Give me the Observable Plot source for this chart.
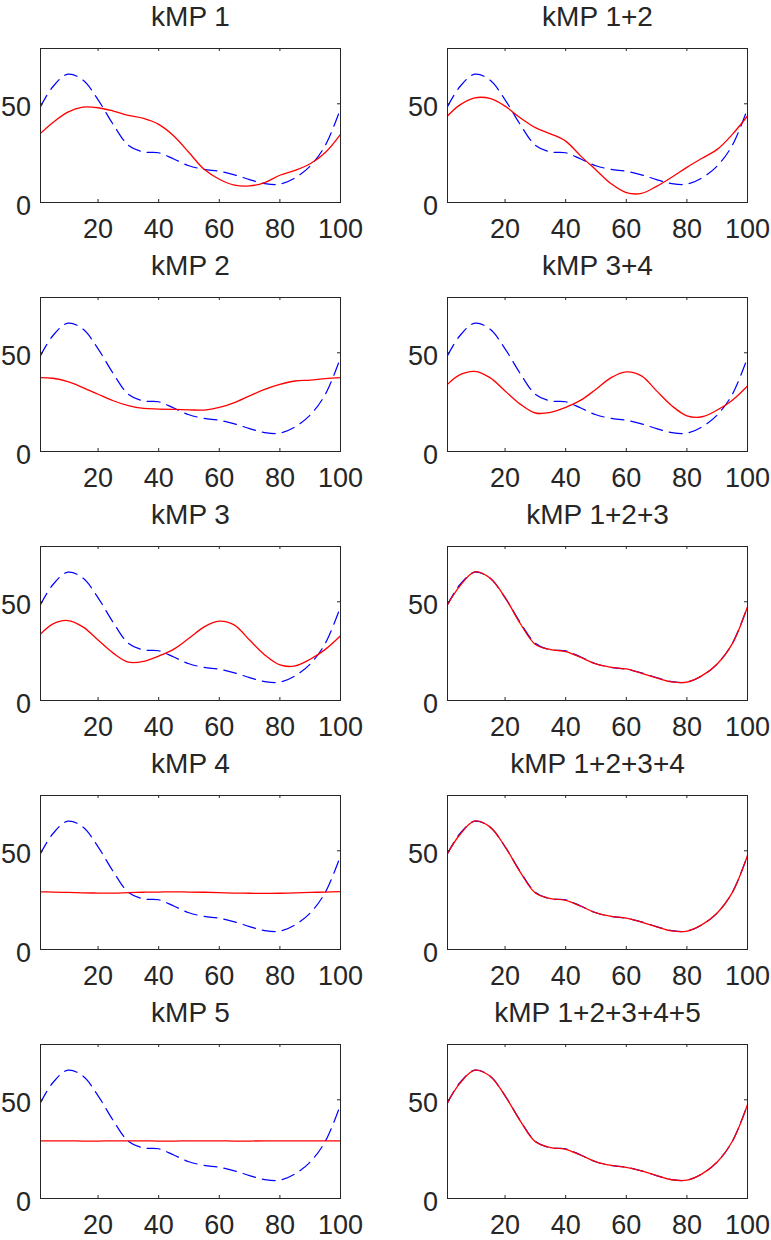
<!DOCTYPE html>
<html><head><meta charset="utf-8">
<script src="https://cdn.jsdelivr.net/npm/d3@7"></script>
<script src="https://cdn.jsdelivr.net/npm/@observablehq/plot@0.6"></script>
<style>
html,body{margin:0;padding:0;background:#fff;}
#chart{position:relative;width:771px;height:1240px;background:#fff;}
#chart svg{position:absolute;overflow:visible;}
</style></head><body><div id="chart"></div>
<script>
// sample positions along the x axis
const xs = [1,5,10,15,20,25,30,35,40,45,50,55,60,65,70,75,80,85,90,95,100];
// blue dashed reference curve (same in every panel)
const target = [48.5,58.5,65,62,52,39.5,29,25.6,25.2,22,18.6,16.8,15.8,14,11.6,9.6,9.3,12.5,18.5,29,47.5];
// red curves
const kmp1 = [35,40.4,45.8,48.3,48,46.3,44.1,42.6,39.6,33.7,25.3,16.8,11.8,8.8,8.4,10.1,13.8,16.3,19.6,25.3,34.5];
const kmp12 = [43.8,49.3,53,52.7,48.8,42.9,37.9,34.8,31.1,23.5,16.5,9.5,5,4.6,8.2,12.8,17.8,22.4,26.9,34.5,43.8];
const kmp2 = [37.4,37.1,35.4,32.4,29,25.7,23.2,21.8,21.5,21.3,21.1,21,22.3,24.8,28.2,31.5,34,35.7,36.2,36.9,37.4];
const kmp34 = [34,38.8,40.6,37.4,30.7,24,19.5,19.8,22.3,26,31.5,37.4,40.3,38.3,30.7,23.2,18.1,17.6,21,26,33.2];
const kmp3 = [33.6,38.7,40.5,37.3,30.6,24,19.4,19.8,22.5,26,31.5,37.3,40.2,38.2,30.6,23.1,18,17.5,20.9,25.9,32.8];
const kmp123 = [48.5,57.8,65.2,62,52.2,39,28.4,25.8,24.8,21.8,18.5,16.8,16,13.8,11.4,9.4,9.3,12.6,18.5,28.8,47.5];
const kmp4 = [29.2,29.1,28.9,28.7,28.6,28.6,28.8,29,29.1,29.2,29.1,29,28.8,28.6,28.5,28.4,28.5,28.7,28.9,29.1,29.3];
const kmp1234 = [48.6,58,65.1,62.1,52.1,39.2,28.6,25.8,24.9,21.9,18.5,16.8,15.9,13.9,11.5,9.4,9.3,12.6,18.5,28.9,47.6];
const kmp5 = [29.2,29.2,29.2,29.1,29.1,29.2,29.2,29.2,29.1,29.1,29.2,29.2,29.2,29.1,29.1,29.2,29.2,29.2,29.2,29.2,29.2];
const kmp12345 = [48.5,58.2,65,62,52,39.3,28.7,25.8,24.9,21.9,18.6,16.8,15.8,14,11.6,9.5,9.3,12.5,18.5,29,47.5];

const titles = ["kMP 1","kMP 1+2","kMP 2","kMP 3+4","kMP 3","kMP 1+2+3","kMP 4","kMP 1+2+3+4","kMP 5","kMP 1+2+3+4+5"];
const series = [kmp1,kmp12,kmp2,kmp34,kmp3,kmp123,kmp4,kmp1234,kmp5,kmp12345];
const xTicks = [20,40,60,80,100];
const yTicks = [0,50];

const ink = "#262626";
const font = "'Liberation Sans', Arial, Helvetica, sans-serif";
const chart = document.getElementById("chart");

series.forEach((vals, i) => {
  const col = i % 2, row = Math.floor(i / 2);
  const W = col ? 386 : 385;
  const mL = col ? 62 : 40, mR = col ? 24 : 45;
  const H = 249, mT = 48, mB = 47;
  const fw = W - mL - mR, fh = H - mT - mB;
  const tgt = xs.map((x, j) => ({x, y: target[j]}));
  const fit = xs.map((x, j) => ({x, y: vals[j]}));
  const svg = Plot.plot({
    width: W, height: H,
    marginLeft: mL, marginRight: mR, marginTop: mT, marginBottom: mB,
    x: {domain: [1, 100], axis: null},
    y: {domain: [0, 78], axis: null},
    style: {fontFamily: font, background: "transparent", color: ink},
    marks: [
      Plot.line(tgt, {x: "x", y: "y", stroke: "#0000ff", strokeWidth: 1.2, strokeDasharray: "13,7", curve: "catmull-rom"}),
      Plot.line(fit, {x: "x", y: "y", stroke: "#ff0000", strokeWidth: 1.3, curve: "catmull-rom"}),
      Plot.ruleX(xTicks, {x: d => d, insetTop: fh - 3, stroke: ink}),
      Plot.ruleX(xTicks, {x: d => d, insetBottom: fh - 3, stroke: ink}),
      Plot.ruleY(yTicks, {y: d => d, insetRight: fw - 3, stroke: ink}),
      Plot.ruleY(yTicks, {y: d => d, insetLeft: fw - 3, stroke: ink}),
      Plot.frame({stroke: ink}),
      Plot.text(xTicks, {x: d => d, text: d => String(d), frameAnchor: "bottom", lineAnchor: "bottom", dy: 35, fontSize: 27, fill: ink}),
      Plot.text(yTicks, {y: d => d, text: d => String(d), frameAnchor: "left", textAnchor: "end", lineAnchor: "bottom", dx: -9.5, dy: 12, fontSize: 27, fill: ink}),
      Plot.text([titles[i]], {text: d => d, frameAnchor: "top", lineAnchor: "bottom", dy: -23, fontSize: 28, fill: ink})
    ]
  });
  svg.style.left = (col ? 385 : 0) + "px";
  svg.style.top = (row * 249) + "px";
  chart.append(svg);
});
</script>
</body></html>
